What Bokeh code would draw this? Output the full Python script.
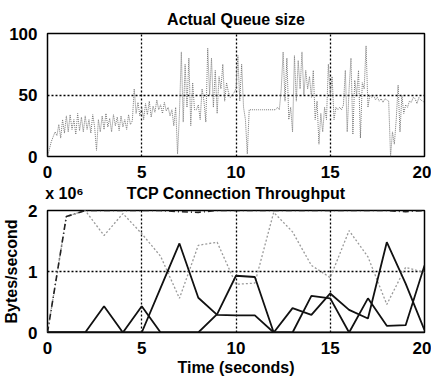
from bokeh.plotting import figure
from bokeh.layouts import column
from bokeh.models import Range1d, FixedTicker, LinearAxis
from bokeh.embed import file_html
from bokeh.resources import INLINE

# ---------------- data ----------------
queue_t = [round(i * 0.1, 1) for i in range(201)]
queue_size = [
    0, 6, 12, 16, 20, 17, 26, 15, 30, 19,
    33, 20, 34, 22, 30, 18, 35, 21, 32, 20,
    33, 22, 30, 19, 34, 24, 5, 30, 20, 33,
    22, 35, 24, 31, 20, 34, 25, 32, 21, 33,
    24, 30, 22, 34, 26, 29, 55, 35, 44, 33,
    40, 30, 43, 34, 45, 32, 41, 36, 46, 38,
    42, 35, 44, 37, 40, 33, 38, 25, 40, 2,
    35, 85, 28, 75, 40, 80, 25, 60, 38, 38,
    42, 30, 55, 45, 28, 88, 50, 80, 40, 70,
    35, 65, 55, 75, 45, 60, 52, 48, 50, 52,
    55, 82, 45, 75, 40, 30, 2, 38, 38, 38,
    38, 38, 38, 38, 38, 38, 38, 38, 38, 38,
    38, 38, 40, 38, 55, 85, 45, 80, 30, 40,
    20, 82, 45, 78, 55, 85, 50, 70, 55, 65,
    48, 70, 30, 45, 10, 35, 20, 40, 30, 75,
    50, 65, 30, 40, 38, 40, 38, 42, 70, 20,
    55, 80, 18, 62, 50, 70, 15, 60, 55, 90,
    40, 50, 48, 50, 46, 48, 45, 47, 44, 47,
    46, 45, 0, 20, 10, 30, 58, 20, 50, 35,
    42, 40, 45, 44, 48, 47, 43, 48, 46, 45,
    44,
]

# throughput in units of 10^6 bytes/second, sampled every second
thr_t = list(range(21))
thr_dashdot = [0, 1.9, 2.0, 2.0, 2.0, 2.0, 2.0, 1.98, 1.97, 2.0, 2.0,
               2.0, 2.0, 2.0, 2.0, 2.0, 2.0, 2.0, 2.0, 1.98, 2.0]
thr_gray = [0, 1.9, 2.0, 1.59, 1.95, 1.62, 1.25, 0.56, 1.43, 1.48, 0.79,
            0.81, 1.97, 1.65, 1.1, 0.9, 1.67, 1.24, 0.46, 1.07, 0.98]
thr_a = [0, 0, 0, 0.43, 0, 0.43, 0, 0, 0, 0, 0,
         0, 0, 0, 0, 0, 0, 0, 0, 0, 0]
thr_b = [0, 0, 0, 0, 0, 0, 0.73, 1.46, 0.57, 0.29, 0.28,
         0.28, 0, 0.4, 0.29, 0.64, 0.37, 0.23, 1.48, 0.8, 0.04]
thr_c = [0, 0, 0, 0, 0, 0, 0, 0, 0, 0.3, 0.93,
         0.91, 0, 0, 0.6, 0.56, 0, 0.56, 0.11, 0.12, 1.1]

x_ticks = [0, 5, 10, 15, 20]
queue_ticks = [0, 50, 100]
thr_ticks = [0, 1, 2]

top_title = "Actual Queue size"
bottom_title = "TCP Connection Throughput"
exponent_note = "x 10\u2076"
# header row of the lower panel: (x position in seconds, text)
header_pos = [0.9, 10]
header_text = [exponent_note, bottom_title]

FONT = "Liberation Sans"
FS = "16px"
TICK_FS = "17px"


def style_axis(ax):
    ax.axis_line_color = None
    ax.major_tick_line_color = None
    ax.minor_tick_line_color = None
    ax.major_label_text_font = FONT
    ax.major_label_text_font_size = TICK_FS
    ax.major_label_text_font_style = "bold"
    ax.major_label_text_color = "black"
    ax.axis_label_text_font = FONT
    ax.axis_label_text_font_size = FS
    ax.axis_label_text_font_style = "bold"
    ax.axis_label_text_color = "black"


def style(p, yticks):
    p.outline_line_color = "black"
    p.outline_line_width = 1.5
    p.background_fill_color = "white"
    p.border_fill_color = "white"
    for ax in (p.xaxis[0], p.yaxis[0]):
        style_axis(ax)
    p.xaxis[0].ticker = FixedTicker(ticks=x_ticks)
    p.yaxis[0].ticker = FixedTicker(ticks=yticks)
    p.xaxis[0].major_label_standoff = 3
    p.yaxis[0].major_label_standoff = 4
    for g in (p.xgrid[0], p.ygrid[0]):
        g.grid_line_color = "black"
        g.grid_line_dash = "2 2"
        g.grid_line_width = 1.3


# ---------------- top figure ----------------
p1 = figure(width=431, height=180, output_backend="svg", toolbar_location=None,
            x_range=Range1d(0, 20), y_range=Range1d(0, 100),
            title=top_title,
            min_border_left=41, min_border_right=7, min_border_top=33,
            min_border_bottom=22)
style(p1, queue_ticks)
p1.title.text_font = FONT
p1.title.text_font_size = FS
p1.title.text_font_style = "bold"
p1.title.text_color = "black"
p1.title.align = "center"
p1.title.standoff = 11
p1.line(queue_t, queue_size, line_color="#777777", line_width=1,
        line_dash="1 1")

# ---------------- bottom figure ----------------
p2 = figure(width=431, height=198, output_backend="svg", toolbar_location=None,
            x_range=Range1d(0, 20), y_range=Range1d(0, 2),
            min_border_left=41, min_border_right=7, min_border_top=30,
            min_border_bottom=45)
style(p2, thr_ticks)
p2.xaxis[0].axis_label = "Time (seconds)"
p2.xaxis[0].axis_label_standoff = 2
p2.yaxis[0].axis_label = "Bytes/second"
p2.yaxis[0].axis_label_standoff = 5

# header: exponent note at the left and the panel title in the centre
header = LinearAxis(ticker=FixedTicker(ticks=header_pos),
                    major_label_overrides=dict(zip(header_pos, header_text)))
style_axis(header)
header.major_label_text_font_size = FS
header.major_label_standoff = 9
header.major_tick_out = 0
header.major_tick_in = 0
p2.add_layout(header, "above")

p2.line(thr_t, thr_gray, line_color="#9a9a9a", line_width=1.3, line_dash="2 2")
p2.line(thr_t, thr_dashdot, line_color="#222222", line_width=1.6,
        line_dash="6 3 1 3")
p2.line(thr_t, thr_a, line_color="#111111", line_width=1.8)
p2.line(thr_t, thr_b, line_color="#111111", line_width=1.8)
p2.line(thr_t, thr_c, line_color="#111111", line_width=1.8)

layout = column(p1, p2, spacing=0)
open("out.html", "w").write(file_html(layout, INLINE))
